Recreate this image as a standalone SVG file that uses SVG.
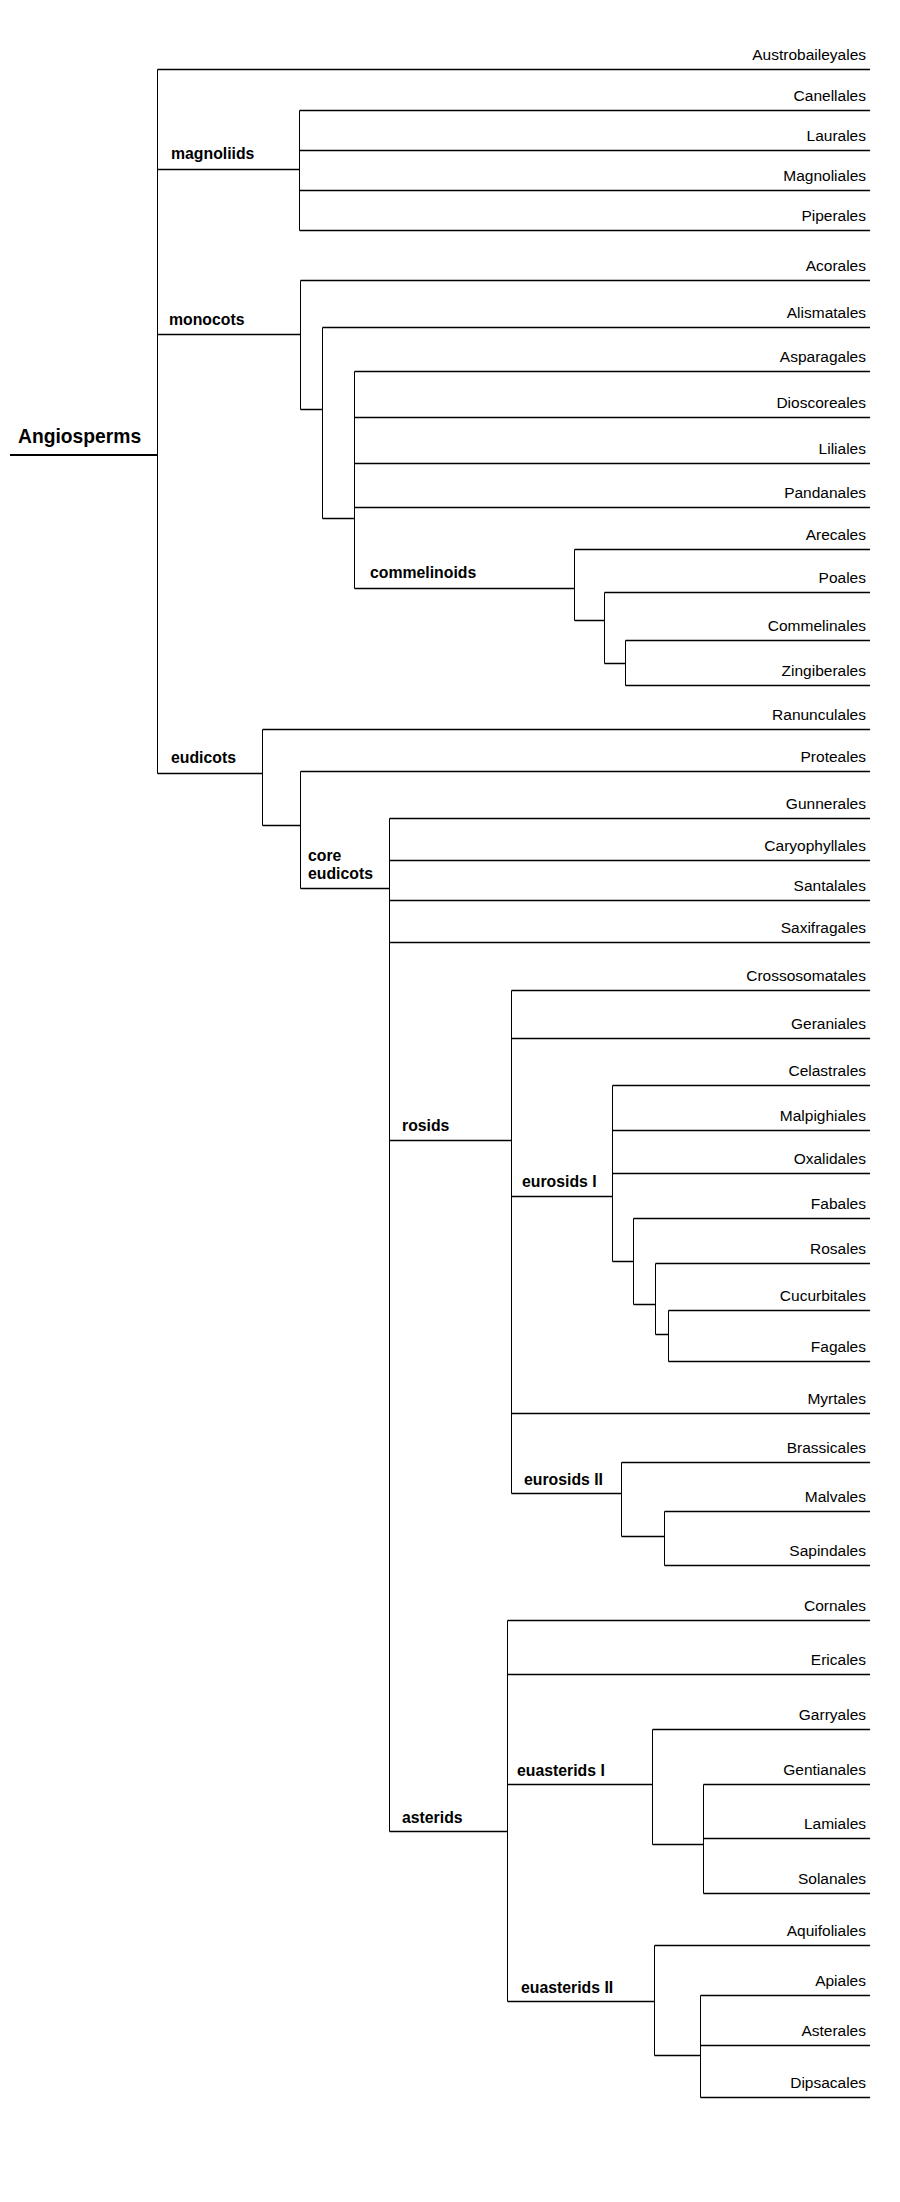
<svg xmlns="http://www.w3.org/2000/svg" width="900" height="2202" viewBox="0 0 900 2202">
<style>
.leaf{font-family:"Liberation Sans",Arial,sans-serif;font-size:15.5px;fill:#000;text-anchor:end}
.clade{font-family:"Liberation Sans",Arial,sans-serif;font-size:15.8px;font-weight:bold;fill:#000}
.root{font-family:"Liberation Sans",Arial,sans-serif;font-size:19.3px;font-weight:bold;fill:#000}
.h{stroke:#000;stroke-width:1.4;fill:none}
.v{stroke:#000;stroke-width:1;fill:none}
</style>
<rect width="900" height="2202" fill="#fff"/>
<g id="connectors">
<line x1="10" y1="455" x2="157.5" y2="455" stroke="#000" stroke-width="2"/>
<path class="v" d="M157.5 69.5V773.5 M299.5 110.5V230.5 M300.5 280.5V409.5 M322.5 327.5V518.5 M354.5 371.5V588.5 M574.5 549.5V620.5 M604.5 592.5V663.5 M625.5 640.5V685.5 M262.5 729.5V825.5 M300.5 771.5V888.5 M389.5 818.5V1831.5 M511.5 990.5V1493.5 M612.5 1085.5V1261.5 M633.5 1218.5V1304.5 M655.5 1263.5V1334.5 M668.5 1310.5V1361.5 M621.5 1462.5V1536.5 M664.5 1511.5V1565.5 M507.5 1620.5V2001.5 M652.5 1729.5V1844.5 M703.5 1784.5V1893.5 M654.5 1945.5V2055.5 M700.5 1995.5V2097.5"/>
<path class="h" d="M157.5 169.5H299.5 M157.5 334.5H300.5 M300.5 409.5H322.5 M322.5 518.5H354.5 M354.5 588.5H574.5 M574.5 620.5H604.5 M604.5 663.5H625.5 M157.5 773.5H262.5 M262.5 825.5H300.5 M300.5 888.5H389.5 M389.5 1140.5H511.5 M511.5 1196.5H612.5 M612.5 1261.5H633.5 M633.5 1304.5H655.5 M655.5 1334.5H668.5 M511.5 1493.5H621.5 M621.5 1536.5H664.5 M389.5 1831.5H507.5 M507.5 1784.5H652.5 M652.5 1844.5H703.5 M507.5 2001.5H654.5 M654.5 2055.5H700.5"/>
<path class="h" d="M157.5 69.5H870 M299.5 110.5H870 M299.5 150.5H870 M299.5 190.5H870 M299.5 230.5H870 M300.5 280.5H870 M322.5 327.5H870 M354.5 371.5H870 M354.5 417.5H870 M354.5 463.5H870 M354.5 507.5H870 M574.5 549.5H870 M604.5 592.5H870 M625.5 640.5H870 M625.5 685.5H870 M262.5 729.5H870 M300.5 771.5H870 M389.5 818.5H870 M389.5 860.5H870 M389.5 900.5H870 M389.5 942.5H870 M511.5 990.5H870 M511.5 1038.5H870 M612.5 1085.5H870 M612.5 1130.5H870 M612.5 1173.5H870 M633.5 1218.5H870 M655.5 1263.5H870 M668.5 1310.5H870 M668.5 1361.5H870 M511.5 1413.5H870 M621.5 1462.5H870 M664.5 1511.5H870 M664.5 1565.5H870 M507.5 1620.5H870 M507.5 1674.5H870 M652.5 1729.5H870 M703.5 1784.5H870 M703.5 1838.5H870 M703.5 1893.5H870 M654.5 1945.5H870 M700.5 1995.5H870 M700.5 2045.5H870 M700.5 2097.5H870"/>
</g>
<g id="root"><text class="root" x="18" y="443">Angiosperms</text></g>
<g id="magnoliids"><text class="clade" x="171" y="159">magnoliids</text></g>
<g id="monocots"><text class="clade" x="169" y="325">monocots</text></g>
<g id="commelinoids"><text class="clade" x="370" y="578">commelinoids</text></g>
<g id="eudicots"><text class="clade" x="171" y="763">eudicots</text></g>
<g id="core-eudicots"><text class="clade" x="308" y="861">core</text><text class="clade" x="308" y="878.5">eudicots</text></g>
<g id="rosids"><text class="clade" x="402" y="1131">rosids</text></g>
<g id="eurosids-I"><text class="clade" x="522" y="1187">eurosids I</text></g>
<g id="eurosids-II"><text class="clade" x="524" y="1485">eurosids II</text></g>
<g id="asterids"><text class="clade" x="402" y="1823">asterids</text></g>
<g id="euasterids-I"><text class="clade" x="517" y="1776">euasterids I</text></g>
<g id="euasterids-II"><text class="clade" x="521" y="1993">euasterids II</text></g>
<g id="Austrobaileyales"><text class="leaf" x="866" y="59.5">Austrobaileyales</text></g>
<g id="Canellales"><text class="leaf" x="866" y="100.5">Canellales</text></g>
<g id="Laurales"><text class="leaf" x="866" y="140.5">Laurales</text></g>
<g id="Magnoliales"><text class="leaf" x="866" y="180.5">Magnoliales</text></g>
<g id="Piperales"><text class="leaf" x="866" y="220.5">Piperales</text></g>
<g id="Acorales"><text class="leaf" x="866" y="270.5">Acorales</text></g>
<g id="Alismatales"><text class="leaf" x="866" y="317.5">Alismatales</text></g>
<g id="Asparagales"><text class="leaf" x="866" y="361.5">Asparagales</text></g>
<g id="Dioscoreales"><text class="leaf" x="866" y="407.5">Dioscoreales</text></g>
<g id="Liliales"><text class="leaf" x="866" y="453.5">Liliales</text></g>
<g id="Pandanales"><text class="leaf" x="866" y="497.5">Pandanales</text></g>
<g id="Arecales"><text class="leaf" x="866" y="539.5">Arecales</text></g>
<g id="Poales"><text class="leaf" x="866" y="582.5">Poales</text></g>
<g id="Commelinales"><text class="leaf" x="866" y="630.5">Commelinales</text></g>
<g id="Zingiberales"><text class="leaf" x="866" y="675.5">Zingiberales</text></g>
<g id="Ranunculales"><text class="leaf" x="866" y="719.5">Ranunculales</text></g>
<g id="Proteales"><text class="leaf" x="866" y="761.5">Proteales</text></g>
<g id="Gunnerales"><text class="leaf" x="866" y="808.5">Gunnerales</text></g>
<g id="Caryophyllales"><text class="leaf" x="866" y="850.5">Caryophyllales</text></g>
<g id="Santalales"><text class="leaf" x="866" y="890.5">Santalales</text></g>
<g id="Saxifragales"><text class="leaf" x="866" y="932.5">Saxifragales</text></g>
<g id="Crossosomatales"><text class="leaf" x="866" y="980.5">Crossosomatales</text></g>
<g id="Geraniales"><text class="leaf" x="866" y="1028.5">Geraniales</text></g>
<g id="Celastrales"><text class="leaf" x="866" y="1075.5">Celastrales</text></g>
<g id="Malpighiales"><text class="leaf" x="866" y="1120.5">Malpighiales</text></g>
<g id="Oxalidales"><text class="leaf" x="866" y="1163.5">Oxalidales</text></g>
<g id="Fabales"><text class="leaf" x="866" y="1208.5">Fabales</text></g>
<g id="Rosales"><text class="leaf" x="866" y="1253.5">Rosales</text></g>
<g id="Cucurbitales"><text class="leaf" x="866" y="1300.5">Cucurbitales</text></g>
<g id="Fagales"><text class="leaf" x="866" y="1351.5">Fagales</text></g>
<g id="Myrtales"><text class="leaf" x="866" y="1403.5">Myrtales</text></g>
<g id="Brassicales"><text class="leaf" x="866" y="1452.5">Brassicales</text></g>
<g id="Malvales"><text class="leaf" x="866" y="1501.5">Malvales</text></g>
<g id="Sapindales"><text class="leaf" x="866" y="1555.5">Sapindales</text></g>
<g id="Cornales"><text class="leaf" x="866" y="1610.5">Cornales</text></g>
<g id="Ericales"><text class="leaf" x="866" y="1664.5">Ericales</text></g>
<g id="Garryales"><text class="leaf" x="866" y="1719.5">Garryales</text></g>
<g id="Gentianales"><text class="leaf" x="866" y="1774.5">Gentianales</text></g>
<g id="Lamiales"><text class="leaf" x="866" y="1828.5">Lamiales</text></g>
<g id="Solanales"><text class="leaf" x="866" y="1883.5">Solanales</text></g>
<g id="Aquifoliales"><text class="leaf" x="866" y="1935.5">Aquifoliales</text></g>
<g id="Apiales"><text class="leaf" x="866" y="1985.5">Apiales</text></g>
<g id="Asterales"><text class="leaf" x="866" y="2035.5">Asterales</text></g>
<g id="Dipsacales"><text class="leaf" x="866" y="2087.5">Dipsacales</text></g>
</svg>
